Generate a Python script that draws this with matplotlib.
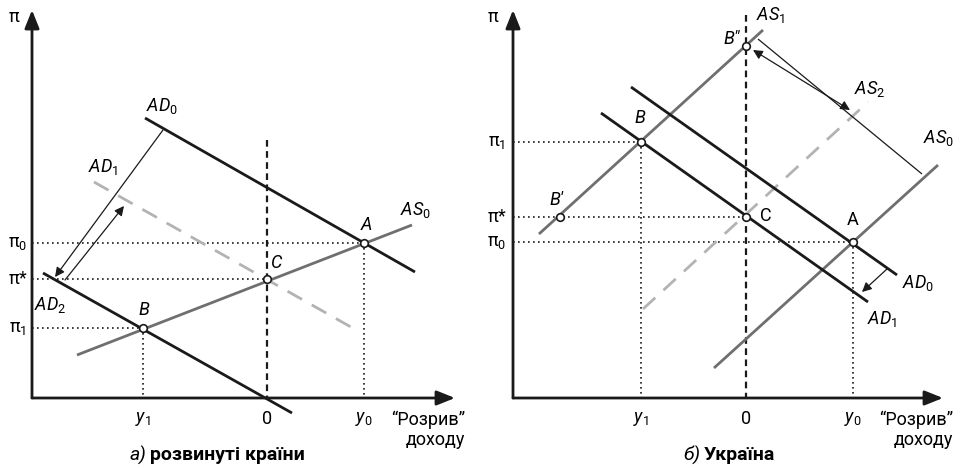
import matplotlib.pyplot as plt

plt.rcParams['font.family'] = ['Roboto', 'DejaVu Sans']
plt.rcParams['mathtext.fontset'] = 'custom'
plt.rcParams['mathtext.rm'] = 'Roboto'
plt.rcParams['mathtext.it'] = 'Roboto:italic'
plt.rcParams['mathtext.bf'] = 'Roboto:bold'

BLACK = '#1a1a1a'
GREY = '#6f6f6f'
LIGHT = '#b3b3b3'

# ---- panel a) developed countries (x = output gap, y = inflation, schematic units)
a_ad0_x, a_ad0_y = [113, 383], [280, 126]
a_ad1_x, a_ad1_y = [62, 326], [216, 67]
a_ad2_x, a_ad2_y = [11, 260], [125, -15]
a_as0_x, a_as0_y = [45, 380], [43, 173]
a_pts_x = [332, 235, 111]          # A, C, B
a_pts_y = [155, 119, 70]
a_pi_vals = [155, 119, 70]
a_pi_labs = [r'$\mathrm{π}_0$', r'$\mathrm{π}$*', r'$\mathrm{π}_1$']
a_y_vals = [111, 235, 332]
a_y_labs = [r'$y_1$', '0', r'$y_0$']

# ---- panel b) Ukraine
b_as0_x, b_as0_y = [201, 425], [30, 233]
b_as1_x, b_as1_y = [26, 250], [164, 368]
b_as2_x, b_as2_y = [130, 355], [89, 296]
b_ad0_x, b_ad0_y = [118, 384], [311, 123]
b_ad1_x, b_ad1_y = [88, 355], [285, 96]
b_pts_x = [233, 128, 47, 233, 340]  # B'', B, B', C, A
b_pts_y = [352, 256, 181, 181, 156]
b_pi_vals = [256, 181, 156]
b_pi_labs = [r'$\mathrm{π}_1$', r'$\mathrm{π}$*', r'$\mathrm{π}_0$']
b_y_vals = [128, 233, 340]
b_y_labs = [r'$y_1$', '0', r'$y_0$']

fig = plt.figure(figsize=(9.62, 4.68), dpi=100)
ax1 = fig.add_axes([32 / 962, 70 / 468, 430 / 962, 390 / 468])
ax2 = fig.add_axes([513 / 962, 70 / 468, 440 / 962, 390 / 468])
ax1.set_xlim(0, 430)
ax2.set_xlim(0, 440)
for ax in (ax1, ax2):
    ax.set_ylim(0, 390)
    ax.axis('off')

FS = 13


def arrow(ax, x0, y0, x1, y1, style='-|>', lw=0.9, scale=14):
    ax.annotate('', xy=(x1, y1), xytext=(x0, y0),
                arrowprops=dict(arrowstyle=style, color=BLACK, lw=lw,
                                mutation_scale=scale, shrinkA=0, shrinkB=0),
                annotation_clip=False)


def frame(ax, xend, pi_vals, pi_labs, y_vals, y_labs, pi_x):
    axis_head = '-|>,head_length=0.55,head_width=0.22'
    arrow(ax, 0, 0, 0, 388, style=axis_head, lw=2, scale=20)
    arrow(ax, 0, 0, xend, 0, style=axis_head, lw=2, scale=20)
    ax.text(pi_x - 4, 381, r'$\mathrm{π}$', fontsize=FS, ha='center', va='center')
    for v, lab in zip(pi_vals, pi_labs):
        ax.text(pi_x, v, lab, fontsize=FS, ha='center', va='center')
    for v, lab in zip(y_vals, y_labs):
        ax.text(v, -21, lab, fontsize=FS, ha='center', va='center')
    ax.text(xend + 10, -13, '“Розрив”\nдоходу', fontsize=FS, ha='right', va='top',
            multialignment='right', linespacing=1.15)


def dotted_to(ax, x, y, vertical=True):
    ax.plot([0, x], [y, y], color=BLACK, lw=1.2, ls=(0, (1, 2)), zorder=1)
    if vertical:
        ax.plot([x, x], [y, 0], color=BLACK, lw=1.2, ls=(0, (1, 2)), zorder=1)


def line(ax, xs, ys, **kw):
    ax.plot(xs, ys, clip_on=False, solid_capstyle='butt', **kw)


# ---------------- panel a
frame(ax1, 423, a_pi_vals, a_pi_labs, a_y_vals, a_y_labs, -14)
dotted_to(ax1, a_pts_x[0], a_pts_y[0])
dotted_to(ax1, a_pts_x[1], a_pts_y[1], vertical=False)
dotted_to(ax1, a_pts_x[2], a_pts_y[2])
line(ax1, [235, 235], [258, 0], color=BLACK, lw=1.6, ls=(0, (3, 2)), zorder=2)
line(ax1, a_ad1_x, a_ad1_y, color=LIGHT, lw=2, ls=(0, (6, 4)), zorder=2)
line(ax1, a_as0_x, a_as0_y, color=GREY, lw=2, zorder=3)
line(ax1, a_ad0_x, a_ad0_y, color=BLACK, lw=2, zorder=3)
line(ax1, a_ad2_x, a_ad2_y, color=BLACK, lw=2, zorder=3)
ax1.plot(a_pts_x, a_pts_y, 'o', ms=5.5, mfc='white', mec=BLACK, mew=1.2, zorder=5)
arrow(ax1, 131, 268, 23, 121)
arrow(ax1, 33, 118, 92, 192)
ax1.text(130, 292, r'$AD_0$', fontsize=FS, ha='center', va='center')
ax1.text(71, 231, r'$AD_1$', fontsize=FS, ha='center', va='center')
ax1.text(18, 93, r'$AD_2$', fontsize=FS, ha='center', va='center')
ax1.text(383, 188, r'$AS_0$', fontsize=FS, ha='center', va='center')
ax1.text(334, 173, r'$A$', fontsize=FS, ha='center', va='center')
ax1.text(245, 135, r'$C$', fontsize=FS, ha='center', va='center')
ax1.text(112, 88, r'$B$', fontsize=FS, ha='center', va='center')
ax1.text(114, -57, 'а)', fontsize=FS + 1, style='italic', ha='right', va='center')
ax1.text(118, -57, 'розвинуті країни', fontsize=FS + 1, weight='bold', ha='left', va='center')

# ---------------- panel b
frame(ax2, 430, b_pi_vals, b_pi_labs, b_y_vals, b_y_labs, -16)
dotted_to(ax2, b_pts_x[1], b_pts_y[1])
dotted_to(ax2, b_pts_x[3], b_pts_y[3], vertical=False)
dotted_to(ax2, b_pts_x[4], b_pts_y[4])
line(ax2, [233, 233], [383, 0], color=BLACK, lw=1.6, ls=(0, (3, 2)), zorder=2)
line(ax2, b_as2_x, b_as2_y, color=LIGHT, lw=2, ls=(0, (6, 4)), zorder=2)
line(ax2, b_as0_x, b_as0_y, color=GREY, lw=2, zorder=3)
line(ax2, b_as1_x, b_as1_y, color=GREY, lw=2, zorder=3)
line(ax2, b_ad0_x, b_ad0_y, color=BLACK, lw=2, zorder=3)
line(ax2, b_ad1_x, b_ad1_y, color=BLACK, lw=2, zorder=3)
ax2.plot(b_pts_x, b_pts_y, 'o', ms=5.5, mfc='white', mec=BLACK, mew=1.2, zorder=5)
line(ax2, [245, 409], [359, 224], color=BLACK, lw=0.9, zorder=2)
arrow(ax2, 240, 348, 337, 288, style='<|-|>')
arrow(ax2, 374, 129, 349, 106)
ax2.text(257, 383, r'$AS_1$', fontsize=FS, ha='center', va='center')
ax2.text(357, 309, r'$AS_2$', fontsize=FS, ha='center', va='center')
ax2.text(425, 260, r'$AS_0$', fontsize=FS, ha='center', va='center')
ax2.text(405, 115, r'$AD_0$', fontsize=FS, ha='center', va='center')
ax2.text(369, 79, r'$AD_1$', fontsize=FS, ha='center', va='center')
ax2.text(219, 359, 'B″', fontsize=FS, style='italic', ha='center', va='center')
ax2.text(127, 280, r'$B$', fontsize=FS, ha='center', va='center')
ax2.text(43, 198, 'B′', fontsize=FS, style='italic', ha='center', va='center')
ax2.text(253, 182, 'C', fontsize=FS, ha='center', va='center')
ax2.text(340, 178, 'A', fontsize=FS, ha='center', va='center')
ax2.text(187, -57, 'б)', fontsize=FS + 1, style='italic', ha='right', va='center')
ax2.text(191, -57, 'Україна', fontsize=FS + 1, weight='bold', ha='left', va='center')

fig.savefig('out.png', dpi=100)
